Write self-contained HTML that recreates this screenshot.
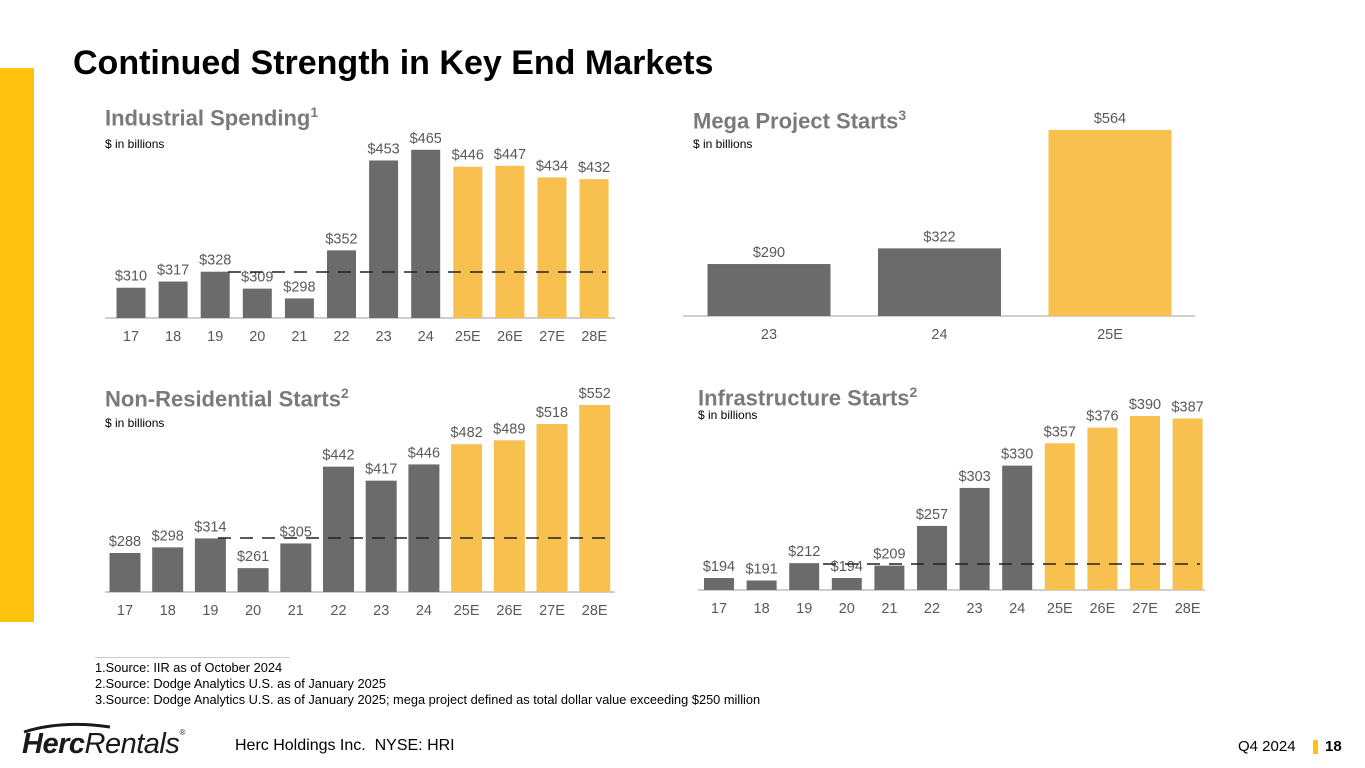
<!DOCTYPE html>
<html><head><meta charset="utf-8"><style>
body{margin:0;width:1365px;height:768px;background:#fff;font-family:"Liberation Sans",Arial,sans-serif;position:relative;overflow:hidden}
.abs{position:absolute}
.t{font-weight:bold;color:#7a7a7a;font-size:22px}
.t sup{font-size:14px}
.sub{font-size:12px;color:#000}
.fn{font-size:12.8px;color:#000;left:95px}
</style></head><body>
<div class="abs" style="left:0;top:68px;width:34px;height:554px;background:#FFC20E"></div>
<div class="abs" style="left:73px;top:44px;font-size:34px;font-weight:bold;color:#000">Continued Strength in Key End Markets</div>

<div class="abs t" style="left:105px;top:104px">Industrial Spending<sup>1</sup></div>
<div class="abs sub" style="left:105px;top:137px">$ in billions</div>
<div class="abs t" style="left:693px;top:107px">Mega Project Starts<sup>3</sup></div>
<div class="abs sub" style="left:693px;top:137px">$ in billions</div>
<div class="abs t" style="left:105px;top:385px">Non-Residential Starts<sup>2</sup></div>
<div class="abs sub" style="left:105px;top:416px">$ in billions</div>
<div class="abs t" style="left:698px;top:384px">Infrastructure Starts<sup>2</sup></div>
<div class="abs sub" style="left:698px;top:408px">$ in billions</div>

<svg class="abs" id="ch" style="left:0;top:0" width="1365" height="768"></svg>

<div class="abs" style="left:95px;top:657px;width:195px;height:1px;background:#ccc"></div>
<div class="abs fn" style="top:660px">1.Source: IIR as of October 2024</div>
<div class="abs fn" style="top:676px">2.Source: Dodge Analytics U.S. as of January 2025</div>
<div class="abs fn" style="top:692px">3.Source: Dodge Analytics U.S. as of January 2025; mega project defined as total dollar value exceeding $250 million</div>

<div class="abs" style="left:22px;top:728px;font-size:29px;color:#1a1a1a;font-style:italic;letter-spacing:-0.5px">
<svg class="abs" style="left:0;top:-6px" width="90" height="12"><path d="M2 10 Q40 -2 88 5" stroke="#1a1a1a" stroke-width="3" fill="none"/></svg>
<b>Herc</b>Rentals<span style="font-size:8px;vertical-align:top">®</span></div>
<div class="abs" style="left:235px;top:737px;font-size:16px">Herc Holdings Inc.&nbsp; NYSE: HRI</div>
<div class="abs" style="left:1238px;top:738px;font-size:15px">Q4 2024</div>
<div class="abs" style="left:1313px;top:740px;width:5px;height:14px;background:#FFC20E"></div>
<div class="abs" style="left:1325px;top:738px;font-size:15px;font-weight:bold">18</div>

<script>
const yrs12 = ["17","18","19","20","21","22","23","24","25E","26E","27E","28E"];
const indVals = [310,317,328,309,298,352,453,465,446,447,434,432];
const megaCats = ["23","24","25E"];
const megaVals = [290,322,564];
const nonVals = [288,298,314,261,305,442,417,446,482,489,518,552];
const infVals = [194,191,212,194,209,257,303,330,357,376,390,387];
const estStart = {ind:8, mega:2, non:8, inf:8};

const svg = document.getElementById('ch');
const NS = 'http://www.w3.org/2000/svg';
function mk(tag, a){const e=document.createElementNS(NS,tag);for(const k in a)e.setAttribute(k,a[k]);svg.appendChild(e);return e;}

function chart(id, cats, vals, est, o){
  const xs = i => o.x0 + i*o.step;
  const ys = v => o.base - (v - o.zero)*o.k;
  const ax = mk('line',{x1:o.ax0,x2:o.ax1,y1:o.base,y2:o.base,stroke:'#bfbfbf','stroke-width':1.5});
  
  
  cats.forEach((c,i)=>{
    const y=ys(vals[i]);
    const r=mk('rect',{x:xs(i)-o.w/2,y:y,width:o.w,height:o.base-y,fill:i>=est?'#F8C04E':'#6b6b6b'});
    
    
    const t=mk('text',{x:xs(i),y:o.base+23,'text-anchor':'middle','font-size':14.5,fill:'#595959'});
    t.textContent=c;
    
    
    const v=mk('text',{x:xs(i),y:y-7,'text-anchor':'middle','font-size':14.5,fill:'#595959'});
    v.textContent='$'+vals[i];
    
    
  });
  if(o.dash){
    const d=mk('line',{x1:o.dash[0],x2:o.dash[1],y1:o.dash[2],y2:o.dash[2],stroke:'#222','stroke-width':1.5,'stroke-dasharray':'13,9'});
    
    
  }
}
chart('industrial', yrs12, indVals, estStart.ind, {x0:131,step:42.1,w:29,base:318,zero:276,k:0.89,ax0:105,ax1:615,dash:[228,606,272]});
chart('mega', megaCats, megaVals, estStart.mega, {x0:769,step:170.5,w:123,base:316,zero:183.7,k:0.489,ax0:683,ax1:1195});
chart('nonres', yrs12, nonVals, estStart.non, {x0:125,step:42.7,w:31,base:592,zero:218.4,k:0.5606,ax0:105,ax1:615,dash:[218,606,538]});
chart('infra', yrs12, infVals, estStart.inf, {x0:719,step:42.6,w:30,base:590,zero:179.5,k:0.8265,ax0:698,ax1:1205,dash:[823,1200,564]});
</script>
</body></html>
